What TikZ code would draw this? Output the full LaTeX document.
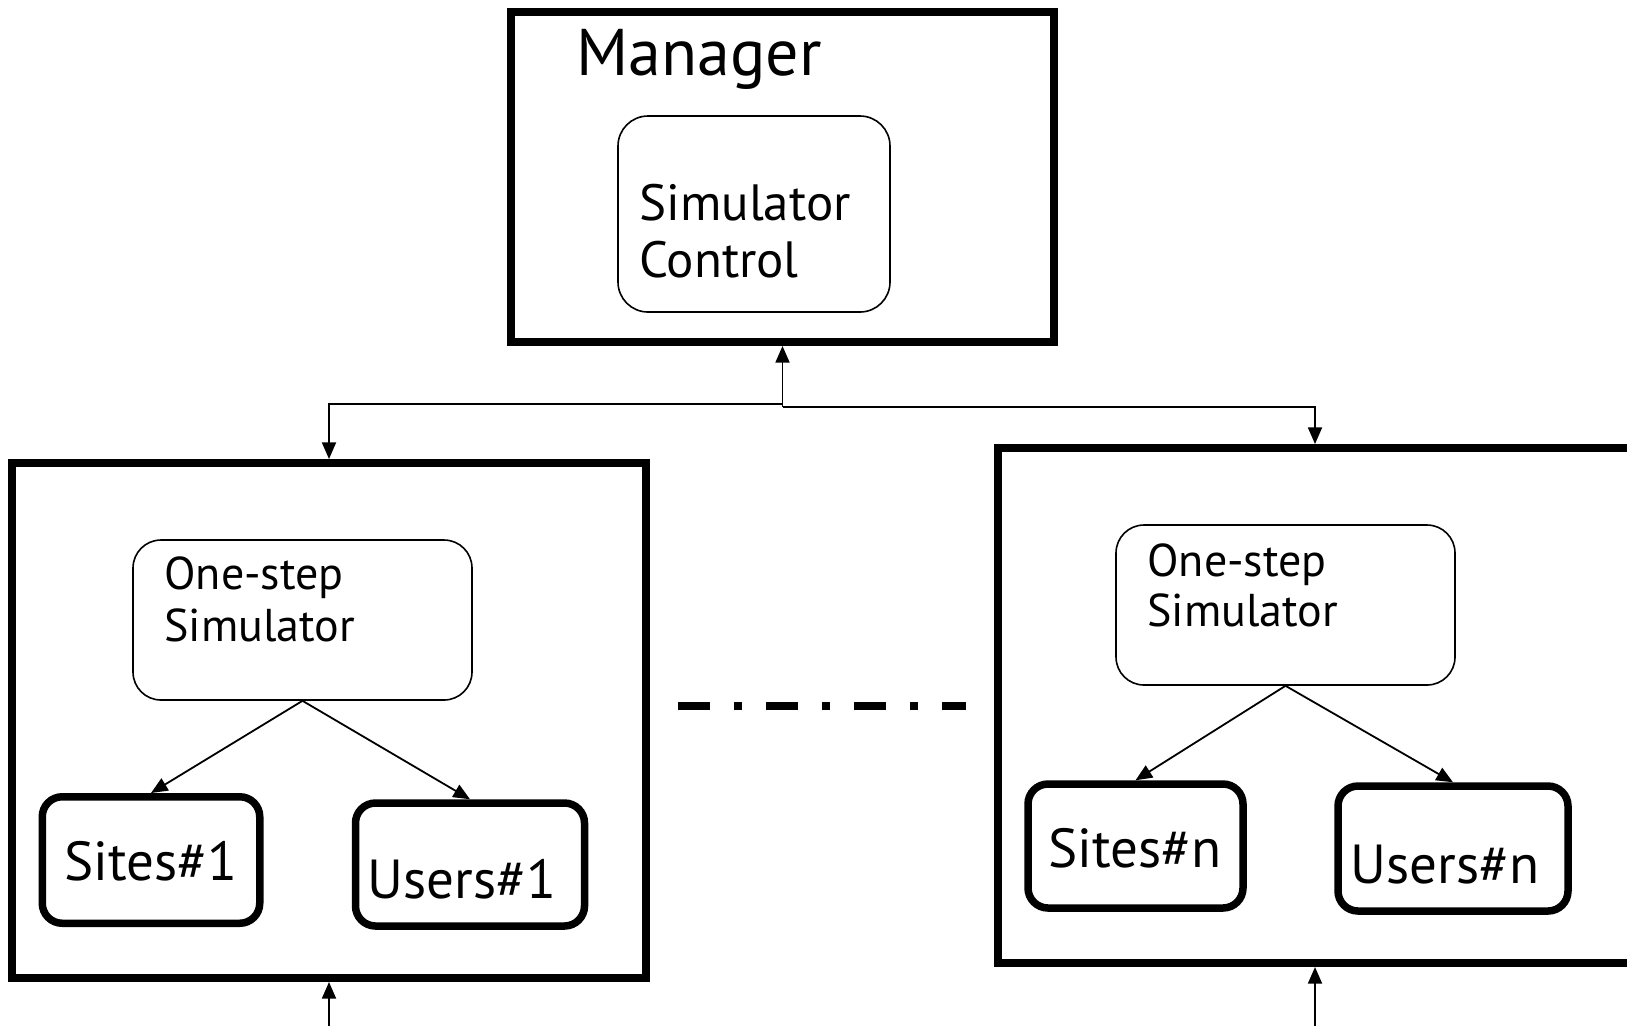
\documentclass[tikz,border=0pt]{standalone}
\usepackage{fontspec}
\setmainfont{PT Sans}
\usetikzlibrary{arrows.meta}
\begin{document}
\begin{tikzpicture}[x=0.5pt,y=-0.5pt,
  frame/.style={draw, line width=4pt, inner sep=0pt, minimum width=317pt, minimum height=257.5pt},
  softbox/.style={draw, line width=0.8pt, rounded corners=14pt, inner sep=0pt},
  databox/.style={draw, line width=3.75pt, rounded corners=10pt, inner sep=0pt},
  label/.style={anchor=base west, inner sep=0pt, align=left},
  conn/.style={line width=0.9pt, -{Triangle[length=8.3pt,width=7pt]}},
  gap/.style={line width=4pt, dash pattern=on 16pt off 12pt on 4pt off 12pt}]
\useasboundingbox (0,0) rectangle (1627,1025);

% manager
\node[draw, line width=4pt, inner sep=0pt, minimum width=271.5pt, minimum height=165pt] (mgr) at (782.5,177) {};
\node[label, font=\fontsize{33}{36}\selectfont] (mgrtitle) at (576,75) {Manager};
\node[softbox, rounded corners=15pt, minimum width=136pt, minimum height=98pt] (ctl) at (754,214) {};
\node[label, font=\fontsize{25.5}{28.5}\selectfont] (ctltext) at (639,277) {Simulator\\Control};

% first simulator
\node[frame] (sim1) at (329,720.5) {};
\node[softbox, minimum width=169.5pt, minimum height=80pt] (one1) at (302.5,620) {};
\node[label, font=\fontsize{23}{26}\selectfont] (one1text) at (164,641) {One-step\\Simulator};
\node[databox, minimum width=108.75pt, minimum height=63.25pt] (sites1) at (151,860) {};
\node[databox, minimum width=114.5pt, minimum height=61.5pt] (users1) at (470,864.5) {};
\node[label, font=\fontsize{27.5}{30}\selectfont] (sites1text) at (64,880) {Sites\#1};
\node[label, font=\fontsize{27.5}{30}\selectfont] (users1text) at (367,898) {Users\#1};

% n-th simulator
\node[frame] (simn) at (1315,705.5) {};
\node[softbox, minimum width=169.5pt, minimum height=80pt] (onen) at (1285.5,605) {};
\node[label, font=\fontsize{23}{25}\selectfont] (onentext) at (1147,626) {One-step\\Simulator};
\node[databox, minimum width=107.5pt, minimum height=62pt] (sitesn) at (1135.5,846) {};
\node[databox, minimum width=115pt, minimum height=62.5pt] (usersn) at (1453,848.5) {};
\node[label, font=\fontsize{27.5}{30}\selectfont] (sitesntext) at (1048,867) {Sites\#n};
\node[label, font=\fontsize{27.5}{30}\selectfont] (usersntext) at (1350,883) {Users\#n};

% links to the manager
\coordinate (jl) at (782.5,404);
\coordinate (jr) at (782.5,407);
\draw[line width=0.9pt] (jl) -- (jr);
\draw[conn] (jr) -- (mgr.south);
\draw[conn] (jl) -| (sim1.north);
\draw[conn] (jr) -| (simn.north);

% inputs from below
\coordinate (in1) at (329,1035);
\coordinate (inn) at (1315,1035);
\draw[conn] (in1) -- (sim1.south);
\draw[conn] (inn) -- (simn.south);

% one-step simulator to its data
\draw[conn] (one1.south) -- (sites1.north);
\draw[conn] (one1.south) -- (users1.north);
\draw[conn] (onen.south) -- (sitesn.north);
\draw[conn] (onen.south) -- (usersn.north);

% ellipsis between the simulators
\coordinate (ga) at (678,706);
\coordinate (gb) at (966,706);
\draw[gap] (ga) -- (gb);
\end{tikzpicture}
\end{document}
